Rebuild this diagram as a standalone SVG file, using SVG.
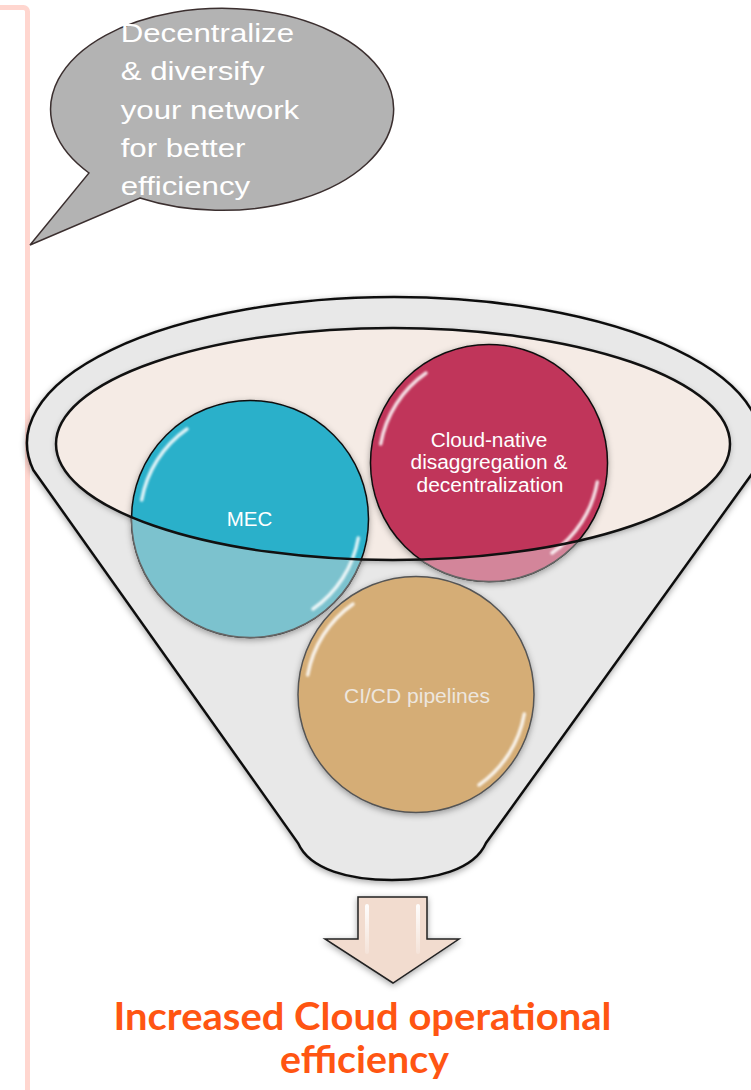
<svg xmlns="http://www.w3.org/2000/svg" width="751" height="1090" viewBox="0 0 751 1090">
<style>
.bub{font-family:"Liberation Sans",Arial,sans-serif;font-size:26px;fill:#ffffff}
.lbl{font-family:"Liberation Sans",Arial,sans-serif;font-size:20px;fill:#ffffff;text-anchor:middle}
.title{font-family:Lato,"Open Sans","Liberation Sans",sans-serif;font-weight:bold;font-size:38px;fill:#ff5512;text-anchor:middle}
.hl{fill:none;stroke:#ffffff;stroke-width:3.5;stroke-linecap:round;opacity:0.85}
</style>
<defs>
<filter id="sh" x="-10%" y="-10%" width="120%" height="120%">
<feDropShadow dx="0" dy="2" stdDeviation="3" flood-color="#000" flood-opacity="0.35"/>
</filter>
<filter id="blur1"><feGaussianBlur stdDeviation="0.8"/></filter>
<clipPath id="belowRim">
<path clip-rule="evenodd" d="M0,0 H751 V1090 H0 Z M56,444 A337 116 0 1 0 730,444 A337 116 0 1 0 56,444 Z"/>
</clipPath>
<linearGradient id="arrowHl" x1="0" y1="0" x2="0" y2="1">
<stop offset="0" stop-color="#fff" stop-opacity="0.95"/>
<stop offset="1" stop-color="#fff" stop-opacity="0.2"/>
</linearGradient>
</defs>

<rect id="frame" x="-200" y="7.5" width="227.5" height="1200" rx="4" fill="none" stroke="#ffd6cf" stroke-width="5"/>

<g id="bubble">
<path d="M89,173 A171.5 101 0 1 1 140,198 L30,245 Z" fill="#b3b3b3" stroke="#3b2f2f" stroke-width="1.5" stroke-linejoin="miter"/>
<g transform="translate(120.7,0) scale(1.2,1)">
<text class="bub" x="0" y="42.5">Decentralize</text>
<text class="bub" x="0" y="80.5">&amp; diversify</text>
<text class="bub" x="0" y="119">your network</text>
<text class="bub" x="0" y="157.5">for better</text>
<text class="bub" x="0" y="195.5">efficiency</text>
</g>
</g>

<g id="funnel">
<path d="M33.3,470 A367 146 0 1 1 754.7,470 L486,843 C474,870 434,880 392,880 C350,880 310,870 298,843 Z" fill="#e8e8e8" stroke="#111" stroke-width="2.5" filter="url(#sh)"/>
<ellipse cx="393" cy="444" rx="337" ry="116" fill="#f5ebe5" filter="url(#sh)"/>
</g>

<g id="node-mec">
<circle cx="250" cy="519" r="118.5" fill="#2bb0ca" stroke="#111" stroke-width="1.5" filter="url(#sh)"/>
<circle cx="250" cy="519" r="118.5" fill="#7cc2ce" stroke="#666" stroke-width="1.5" clip-path="url(#belowRim)"/>
<path class="hl" filter="url(#blur1)" d="M141.7,500 A110 110 0 0 1 187,429"/>
<path class="hl" filter="url(#blur1)" d="M358.3,538 A110 110 0 0 1 313,609" opacity="0.5"/>
<text class="lbl" x="249.5" y="525.7" style="font-size:20.5px">MEC</text>
</g>

<g id="node-cloud">
<circle cx="489" cy="463" r="118.5" fill="#c0345a" stroke="#111" stroke-width="1.5" filter="url(#sh)"/>
<circle cx="489" cy="463" r="118.5" fill="#d3859a" stroke="#666" stroke-width="1.5" clip-path="url(#belowRim)"/>
<path class="hl" filter="url(#blur1)" d="M380.7,444 A110 110 0 0 1 426,373"/>
<path class="hl" filter="url(#blur1)" d="M597.3,482 A110 110 0 0 1 552,553"/>
<text class="lbl" x="489" y="446.7" textLength="116.7" lengthAdjust="spacingAndGlyphs">Cloud-native</text>
<text class="lbl" x="489" y="469.3" textLength="157" lengthAdjust="spacingAndGlyphs">disaggregation &amp;</text>
<text class="lbl" x="490" y="491.7" textLength="147" lengthAdjust="spacingAndGlyphs">decentralization</text>
</g>

<ellipse id="rim" cx="393" cy="444" rx="337" ry="116" fill="none" stroke="#111" stroke-width="2.5"/>

<g id="node-cicd">
<circle cx="416" cy="694.5" r="118" fill="#d5ad76" stroke="#555" stroke-width="1.5" filter="url(#sh)"/>
<path class="hl" filter="url(#blur1)" d="M307.7,675 A110 110 0 0 1 353,604" opacity="0.6"/>
<path class="hl" filter="url(#blur1)" d="M524.3,714 A110 110 0 0 1 479,785"/>
<text class="lbl" x="417" y="703.3" style="font-size:21px;fill:#ede6de" textLength="146" lengthAdjust="spacingAndGlyphs">CI/CD pipelines</text>
</g>

<g id="connectors">
<path d="M358,897 L427,897 L427,939 L459,939 L393,983 L325,939 L358,939 Z" fill="#f2dccf" stroke="#222" stroke-width="1.5" stroke-linejoin="miter" filter="url(#sh)"/>
<rect x="365" y="904" width="4" height="50" fill="url(#arrowHl)" rx="2"/>
<rect x="416" y="904" width="4" height="50" fill="url(#arrowHl)" rx="2"/>
</g>

<g id="result">
<text class="title" x="362.5" y="1029.5" textLength="498" lengthAdjust="spacingAndGlyphs">Increased Cloud operational</text>
<text class="title" x="364.5" y="1073" textLength="169" lengthAdjust="spacingAndGlyphs">efficiency</text>
</g>
</svg>
